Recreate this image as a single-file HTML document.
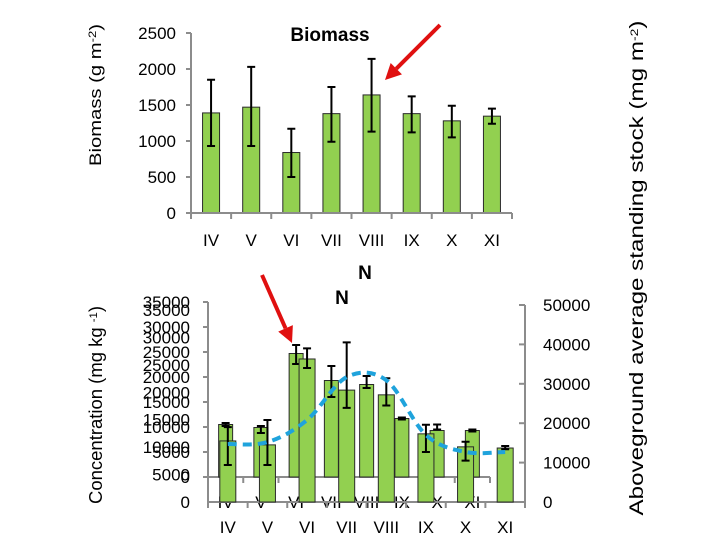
<!DOCTYPE html>
<html><head><meta charset="utf-8"><style>
html,body{margin:0;padding:0;background:#fff;}
svg{display:block;font-family:"Liberation Sans",sans-serif;}
</style></head><body>
<svg id="c" width="720" height="540" viewBox="0 0 720 540"></svg>
<script>
const cats=["IV","V","VI","VII","VIII","IX","X","XI"];
const biomass=[1390,1470,840,1380,1640,1380,1280,1345];
const bioLo=[930,930,500,990,1130,1120,1050,1240];
const bioHi=[1850,2030,1170,1750,2140,1620,1490,1450];
const bioTicks=[0,500,1000,1500,2000,2500];
const backConc=[10500,9900,24700,19300,18500,11700,9300,9300];
const backLo=[10200,8800,22600,16000,17800,11500,9500,9100];
const backHi=[10800,10200,26400,22200,20200,11900,10500,9500];
const frontConc=[15500,14500,36300,28400,27200,17300,14000,13700];
const frontLo=[9400,9400,34000,23900,24500,12700,10500,13400];
const frontHi=[19000,20800,39000,40500,31400,19600,15300,14200];
const stock=[14700,15200,20800,31700,30900,17000,12700,12700];
const concTicks=[0,5000,10000,15000,20000,25000,30000,35000];
const stockTicks=[0,10000,20000,30000,40000,50000];

const S=document.getElementById('c');
const NS="http://www.w3.org/2000/svg";
function mk(t,a,p){const e=document.createElementNS(NS,t);for(const k in a)e.setAttribute(k,a[k]);(p||S).appendChild(e);return e;}
function tx(x,y,s,o){const e=mk('text',Object.assign({x:x,y:y,'font-size':17,fill:'#000'},o||{}));e.textContent=s;return e;}
const AX='#8c8c8c',GREEN='#92d050';

// ---- Top chart ----
const tX0=191,tX1=512,tY0=213,tY1=33;
const tx_=i=>tX0+(i+0.5)*(tX1-tX0)/8;
const ty=v=>tY0-v/2500*(tY0-tY1);
let g=mk('g',{});


biomass.forEach((v,i)=>{
 const b=mk('rect',{x:tx_(i)-8.5,y:ty(v),width:17,height:tY0-ty(v),fill:GREEN,stroke:'#2a2a2a','stroke-width':1},g);
 
 
 const e=mk('path',{d:`M${tx_(i)},${ty(bioLo[i])}V${ty(bioHi[i])}M${tx_(i)-4},${ty(bioLo[i])}h8M${tx_(i)-4},${ty(bioHi[i])}h8`,stroke:'#000','stroke-width':2,fill:'none'},g);
 
 
 const l=tx(tx_(i),246,cats[i],{'text-anchor':'middle'});
 
 
});
mk('path',{d:`M${tX0},${tY1}V${tY0}H${tX1}`,stroke:AX,'stroke-width':2,fill:'none'},g);
bioTicks.forEach(v=>{mk('path',{d:`M${tX0-5},${ty(v)}h5`,stroke:AX,'stroke-width':2},g);
 const l=tx(176,ty(v)+6,String(v),{'text-anchor':'end'});
 
 });
for(let i=0;i<=8;i++)mk('path',{d:`M${tX0+i*(tX1-tX0)/8},${tY0}v6`,stroke:AX,'stroke-width':2},g);
let t=tx(330,41,'Biomass',{'text-anchor':'middle','font-weight':'bold','font-size':19});

t=tx(0,0,'',{'font-size':17,transform:'translate(101,95) rotate(-90)','text-anchor':'middle',textLength:142,lengthAdjust:'spacingAndGlyphs'});
t.innerHTML='Biomass (g m<tspan dy="-5" font-size="11">-2</tspan><tspan dy="5">)</tspan>';


// ---- Bottom chart: back layer ----
const bX0=208,bX1=490,bY0=477,bY1=302;
const bx=i=>bX0+(i+0.5)*(bX1-bX0)/8;
const by=v=>bY0-v/35000*(bY0-bY1);
mk('path',{d:`M${bX0},${bY1}V${bY0}H${bX1}`,stroke:AX,'stroke-width':2,fill:'none'});
for(let i=0;i<=8;i++)mk('path',{d:`M${bX0+i*(bX1-bX0)/8},${bY0}v6`,stroke:AX,'stroke-width':2});
concTicks.forEach(v=>{mk('path',{d:`M${bX0-5},${by(v)}h5`,stroke:AX,'stroke-width':2});
 const l=tx(190,by(v)+6,String(v),{'text-anchor':'end'});
 
 });
backConc.forEach((v,i)=>{
 const b=mk('rect',{x:bx(i)-7,y:by(v),width:14,height:bY0-by(v),fill:GREEN,stroke:'#2a2a2a','stroke-width':1});
 
 
 const e=mk('path',{d:`M${bx(i)},${by(backLo[i])}V${by(backHi[i])}M${bx(i)-4},${by(backLo[i])}h8M${bx(i)-4},${by(backHi[i])}h8`,stroke:'#000','stroke-width':2,fill:'none'});
 
 
 const l=tx(bx(i),508,cats[i],{'text-anchor':'middle'});
 
 
});
t=tx(365,279,'N',{'text-anchor':'middle','font-weight':'bold','font-size':19});


// ---- Bottom chart: front layer ----
const fX0=208,fX1=525,fY0=502,fY1=305;
const fx=i=>fX0+(i+0.5)*(fX1-fX0)/8;
const fy=v=>fY0-v/50000*(fY0-fY1);
const cy=v=>fY0-v/35000*(fY0-310);
mk('path',{d:`M${fX0},${fY1}V${fY0}H${fX1}V${fY1}`,stroke:AX,'stroke-width':2,fill:'none'});
for(let i=0;i<=8;i++)mk('path',{d:`M${fX0+i*(fX1-fX0)/8},${fY0}v6`,stroke:AX,'stroke-width':2});
concTicks.forEach(v=>{
 const l=tx(190,cy(v)+6,String(v),{'text-anchor':'end'});
 
 });
stockTicks.forEach(v=>{mk('path',{d:`M${fX1-6},${fy(v)}h6`,stroke:AX,'stroke-width':2});
 const l=tx(543,fy(v)+6,String(v),{'text-anchor':'start'});
 
 });
frontConc.forEach((v,i)=>{
 const b=mk('rect',{x:fx(i)-8,y:fy(v),width:16,height:fY0-fy(v),fill:GREEN,stroke:'#2a2a2a','stroke-width':1});
 
 
 const e=mk('path',{d:`M${fx(i)},${fy(frontLo[i])}V${fy(frontHi[i])}M${fx(i)-4},${fy(frontLo[i])}h8M${fx(i)-4},${fy(frontHi[i])}h8`,stroke:'#000','stroke-width':2,fill:'none'});
 
 
 const l=tx(fx(i),533,cats[i],{'text-anchor':'middle'});
 
 
});
// smoothed dashed line
let pts=stock.map((v,i)=>[fx(i),fy(v)]);
let d=`M${pts[0][0]},${pts[0][1]}`;
for(let i=0;i<pts.length-1;i++){
 const p0=pts[Math.max(i-1,0)],p1=pts[i],p2=pts[i+1],p3=pts[Math.min(i+2,pts.length-1)];
 d+=`C${p1[0]+(p2[0]-p0[0])/6},${p1[1]+(p2[1]-p0[1])/6} ${p2[0]-(p3[0]-p1[0])/6},${p2[1]-(p3[1]-p1[1])/6} ${p2[0]},${p2[1]}`;
}
const ln=mk('path',{d:d,stroke:'#1fa3dc','stroke-width':4,fill:'none','stroke-dasharray':'9,6'});


t=tx(342,304,'N',{'text-anchor':'middle','font-weight':'bold','font-size':19});

t=tx(0,0,'',{'font-size':18,transform:'translate(102,405) rotate(-90)','text-anchor':'middle',textLength:198,lengthAdjust:'spacingAndGlyphs'});
t.innerHTML='Concentration (mg kg <tspan dy="-5" font-size="11">-1</tspan><tspan dy="5">)</tspan>';

t=tx(0,0,'',{'font-size':19,transform:'translate(643,268) rotate(-90)','text-anchor':'middle',textLength:495,lengthAdjust:'spacingAndGlyphs'});
t.innerHTML='Aboveground average standing stock (mg m<tspan dy="-5" font-size="11">-2</tspan><tspan dy="5">)</tspan>';


// arrows
function arrow(x1,y1,x2,y2,name){
 const a=Math.atan2(y2-y1,x2-x1),L=16,W=8;
 const bxp=x2-L*Math.cos(a),byp=y2-L*Math.sin(a);
 const gg=mk('g',{});
 
 
 mk('line',{x1:x1,y1:y1,x2:bxp,y2:byp,stroke:'#e01010','stroke-width':4},gg);
 mk('polygon',{points:`${x2},${y2} ${bxp+W*Math.sin(a)},${byp-W*Math.cos(a)} ${bxp-W*Math.sin(a)},${byp+W*Math.cos(a)}`,fill:'#e01010'},gg);
}
arrow(440,25,385,80,'biomass-highlight-arrow');
arrow(262,275,292,343,'n-highlight-arrow');
</script>
</body></html>
